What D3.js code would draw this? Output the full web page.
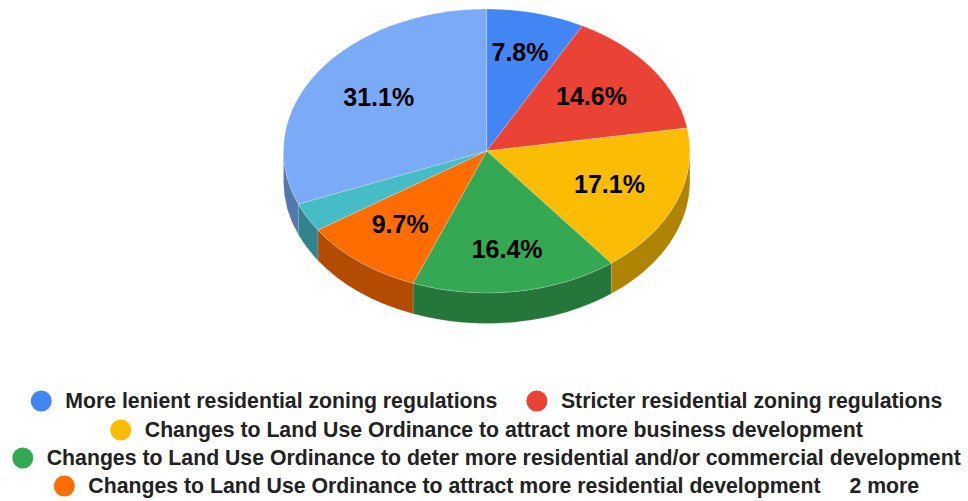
<!DOCTYPE html>
<html>
<head>
<meta charset="utf-8">
<script src="https://cdn.jsdelivr.net/npm/d3@7"></script>
<style>
    html, body { margin: 0; padding: 0; background: #fff; }
    svg { display: block; }
    text { font-family: "Liberation Sans", Arial, sans-serif; font-weight: bold; }
</style>
</head>
<body>
<svg id="chart" width="968" height="501"></svg>
<script>
// values, teal has no printed label so it is the remainder
var sliceValues = [7.8, 14.6, 17.1, 16.4, 9.7, 3.3, 31.1];
var sliceLabels = ["7.8%", "14.6%", "17.1%", "16.4%", "9.7%", "", "31.1%"];
var sliceColors = ["#4285f4", "#ea4335", "#fbbc04", "#34a853", "#ff6d01", "#46bdc6", "#7baaf7"];
var legendRows = [
    [0, 1],
    [2],
    [3],
    [4, "2 more"]
];
var legendNames = [
    "More lenient residential zoning regulations",
    "Stricter residential zoning regulations",
    "Changes to Land Use Ordinance to attract more business development",
    "Changes to Land Use Ordinance to deter more residential and/or commercial development",
    "Changes to Land Use Ordinance to attract more residential development"
];

var svg = d3.select("#chart");
var centerX = 486.7, centerY = 151, radiusX = 203.2, radiusY = 142, depth = 30.5;

var xScale = d3.scaleLinear().domain([-1, 1]).range([centerX - radiusX, centerX + radiusX]);
var yScale = d3.scaleLinear().domain([-1, 1]).range([centerY + radiusY, centerY - radiusY]);

var pie = d3.pie().sort(null).value(function (d) { return d.value; });
var slices = pie(sliceValues.map(function (v, i) {
    return { value: v, label: sliceLabels[i], color: sliceColors[i] };
}));

function px(angle, r) { return xScale(r * Math.sin(angle)); }
function py(angle, r) { return yScale(r * Math.cos(angle)); }

function arcTo(angle, sweep, large, offset) {
    return "A" + radiusX + "," + radiusY + " 0 " + large + "," + sweep + " " +
        px(angle, 1) + "," + (py(angle, 1) + offset);
}

function topPath(d) {
    var large = d.endAngle - d.startAngle > Math.PI ? 1 : 0;
    return "M" + px(0, 0) + "," + py(0, 0) +
        "L" + px(d.startAngle, 1) + "," + py(d.startAngle, 1) +
        arcTo(d.endAngle, 1, large, 0) + "Z";
}

// only the front half of the rim can be seen
function wallPath(d) {
    var a0 = Math.max(d.startAngle, Math.PI / 2);
    var a1 = Math.min(d.endAngle, Math.PI * 1.5);
    if (a0 >= a1) return null;
    return "M" + px(a0, 1) + "," + py(a0, 1) +
        arcTo(a1, 1, 0, 0) +
        "L" + px(a1, 1) + "," + (py(a1, 1) + depth) +
        arcTo(a0, 0, 0, depth) + "Z";
}

svg.append("g").attr("class", "walls")
    .selectAll("path")
    .data(slices.filter(function (d) { return wallPath(d) !== null; }))
    .enter()
    .append("path")
    .attr("d", wallPath)
    .attr("fill", function (d) {
        var c = d3.color(d.data.color);
        return d3.rgb(c.r * 0.7, c.g * 0.7, c.b * 0.7).formatHex();
    })
    .attr("stroke", "#fff")
    .attr("stroke-opacity", 0.25)
    .attr("stroke-width", 0.5);

svg.append("g").attr("class", "tops")
    .selectAll("path")
    .data(slices)
    .enter()
    .append("path")
    .attr("d", topPath)
    .attr("fill", function (d) { return d.data.color; })
    .attr("stroke", "#fff")
    .attr("stroke-opacity", 0.4)
    .attr("stroke-width", 0.5);

// labels don't sit on one clean radius in the original, so nudge them by hand
var labelNudge = [[0.5, -7], [-5, 0], [-3, -1], [1, 5], [-2, -1], [0, 0], [4, -1]];
var labelSlices = slices.filter(function (d) { return d.data.label !== ""; });
var nudgeFor = function (d) { return labelNudge[d.index]; };

svg.append("g").attr("class", "labels")
    .selectAll("text")
    .data(labelSlices)
    .enter()
    .append("text")
    .attr("x", function (d) { return px((d.startAngle + d.endAngle) / 2, 0.665) + nudgeFor(d)[0]; })
    .attr("y", function (d) { return py((d.startAngle + d.endAngle) / 2, 0.665) + nudgeFor(d)[1]; })
    .attr("dy", "0.36em")
    .attr("text-anchor", "middle")
    .attr("font-size", 25)
    .attr("fill", "#000")
    .text(function (d) { return d.data.label; });

// legend rows get centred after the text is measured
var rowY = [401, 430, 458, 486];
var legendCenter = 486.5, dotR = 10.5, dotGap = 13.5, itemGap = 29;
var legend = svg.append("g").attr("class", "legend");

legendRows.forEach(function (row, r) {
    var g = legend.append("g");
    var x = 0;
    row.forEach(function (item, j) {
        if (j > 0) x += itemGap;
        var isDot = typeof item === "number";
        if (isDot) {
            g.append("circle")
                .attr("cx", x + dotR)
                .attr("cy", rowY[r])
                .attr("r", dotR)
                .attr("fill", sliceColors[item]);
            x += dotR * 2 + dotGap;
        }
        var t = g.append("text")
            .attr("x", x)
            .attr("y", rowY[r] - 0.7)
            .attr("dy", "0.36em")
            .attr("font-size", 21.25)
            .attr("fill", "#222")
            .text(isDot ? legendNames[item] : item);
        x += t.node().getComputedTextLength();
    });
    g.attr("transform", "translate(" + (legendCenter - x / 2) + ",0)");
});
</script>
</body>
</html>
